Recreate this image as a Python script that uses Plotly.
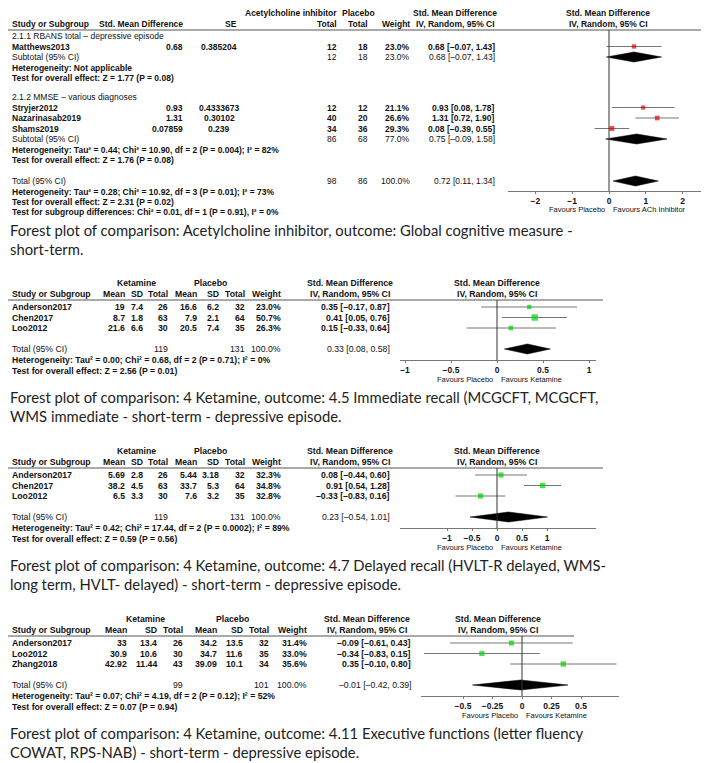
import math
import plotly.graph_objects as go

W, H = 709, 763
TFONT = "Liberation Sans"
CFONT = "Lato"

# ---------------- data: panel 1, acetylcholine inhibitor ----------------
ach_rbans_studies = ["Matthews2013"]
ach_rbans_smd = [0.68]
ach_rbans_se = [0.385204]
ach_rbans_n_ach = [12]
ach_rbans_n_pla = [18]
ach_rbans_weight = [23.0]
ach_rbans_lo = [-0.07]
ach_rbans_hi = [1.43]

ach_mmse_studies = ["Stryjer2012", "Nazarinasab2019", "Shams2019"]
ach_mmse_smd = [0.93, 1.31, 0.07859]
ach_mmse_se = [0.4333673, 0.30102, 0.239]
ach_mmse_n_ach = [12, 40, 34]
ach_mmse_n_pla = [12, 20, 36]
ach_mmse_weight = [21.1, 26.6, 29.3]
ach_mmse_lo = [0.08, 0.72, -0.39]
ach_mmse_hi = [1.78, 1.90, 0.55]

# subtotal RBANS, subtotal MMSE, overall total
ach_pool_labels = ["Subtotal (95% CI)", "Subtotal (95% CI)", "Total (95% CI)"]
ach_pool_est = [0.68, 0.75, 0.72]
ach_pool_lo = [-0.07, -0.09, 0.11]
ach_pool_hi = [1.43, 1.58, 1.34]
ach_pool_n_ach = [12, 86, 98]
ach_pool_n_pla = [18, 68, 86]
ach_pool_weight = [23.0, 77.0, 100.0]
ach_ticks = [-2, -1, 0, 1, 2]

# ---------------- data: ketamine panels ----------------
ket_studies_a = ["Anderson2017", "Chen2017", "Loo2012"]
ket_studies_b = ["Anderson2017", "Loo2012", "Zhang2018"]

imm_k_mean = [19, 8.7, 21.6]
imm_k_sd = [7.4, 1.8, 6.6]
imm_k_n = [26, 63, 30]
imm_p_mean = [16.6, 7.9, 20.5]
imm_p_sd = [6.2, 2.1, 7.4]
imm_p_n = [32, 64, 35]
imm_weight = [23.0, 50.7, 26.3]
imm_smd = [0.35, 0.41, 0.15]
imm_lo = [-0.17, 0.05, -0.33]
imm_hi = [0.87, 0.76, 0.64]
imm_total = [0.33, 0.08, 0.58]
imm_total_n = [119, 131]
imm_ticks = [-1, -0.5, 0, 0.5, 1]

del_k_mean = [5.69, 38.2, 6.5]
del_k_sd = [2.8, 4.5, 3.3]
del_k_n = [26, 63, 30]
del_p_mean = [5.44, 33.7, 7.6]
del_p_sd = [3.18, 5.3, 3.2]
del_p_n = [32, 64, 35]
del_weight = [32.3, 34.8, 32.8]
del_smd = [0.08, 0.91, -0.33]
del_lo = [-0.44, 0.54, -0.83]
del_hi = [0.60, 1.28, 0.16]
del_total = [0.23, -0.54, 1.01]
del_total_n = [119, 131]
del_ticks = [-1, -0.5, 0, 0.5, 1]

exe_k_mean = [33, 30.9, 42.92]
exe_k_sd = [13.4, 10.6, 11.44]
exe_k_n = [26, 30, 43]
exe_p_mean = [34.2, 34.7, 39.09]
exe_p_sd = [13.5, 11.6, 10.1]
exe_p_n = [32, 35, 34]
exe_weight = [31.4, 33.0, 35.6]
exe_smd = [-0.09, -0.34, 0.35]
exe_lo = [-0.61, -0.83, -0.10]
exe_hi = [0.43, 0.15, 0.80]
exe_total = [-0.01, -0.42, 0.39]
exe_total_n = [99, 101]
exe_ticks = [-0.5, -0.25, 0, 0.25, 0.5]

imm_stats = ["Heterogeneity: Tau² = 0.00; Chi² = 0.68, df = 2 (P = 0.71); I² = 0%",
             "Test for overall effect: Z = 2.56 (P = 0.01)"]
del_stats = ["Heterogeneity: Tau² = 0.42; Chi² = 17.44, df = 2 (P = 0.0002); I² = 89%",
             "Test for overall effect: Z = 0.59 (P = 0.56)"]
exe_stats = ["Heterogeneity: Tau² = 0.07; Chi² = 4.19, df = 2 (P = 0.12); I² = 52%",
             "Test for overall effect: Z = 0.07 (P = 0.94)"]

captions = [
    ["Forest plot of comparison: Acetylcholine inhibitor, outcome: Global cognitive measure -",
     "short-term."],
    ["Forest plot of comparison: 4 Ketamine, outcome: 4.5 Immediate recall (MCGCFT, MCGCFT,",
     "WMS immediate - short-term - depressive episode."],
    ["Forest plot of comparison: 4 Ketamine, outcome: 4.7 Delayed recall (HVLT-R delayed, WMS-",
     "long term, HVLT- delayed) - short-term - depressive episode."],
    ["Forest plot of comparison: 4 Ketamine, outcome: 4.11 Executive functions (letter fluency",
     "COWAT, RPS-NAB) - short-term - depressive episode."],
]

fig = go.Figure()
annotations = []
shapes = []


def fmt(v):
    return f"{v:.2f}".replace("-", "–")


def ci_label(e, lo, hi):
    return f"{fmt(e)} [{fmt(lo)}, {fmt(hi)}]"


def txt(x, y, s, anchor="left", bold=False, size=8.5, family=TFONT, color="#111"):
    annotations.append(dict(
        x=x / W, y=y, xref="paper", yref="y", text=f"<b>{s}</b>" if bold else s,
        showarrow=False, xanchor=anchor, yanchor="middle", borderpad=0,
        font=dict(family=family, size=size, color=color),
    ))


def hline(y, x0, x1, color="#555"):
    shapes.append(dict(type="line", xref="paper", yref="y", x0=x0 / W, x1=x1 / W,
                       y0=y, y1=y, line=dict(color=color, width=1)))


def forest(xa, ys, est, lo, hi, weights, color):
    xs, yy = [], []
    for y, a, b in zip(ys, lo, hi):
        xs += [a, b, None]
        yy += [y, y, None]
    fig.add_trace(go.Scatter(x=xs, y=yy, mode="lines", xaxis=xa, yaxis="y",
                             line=dict(color="#777", width=1), hoverinfo="skip"))
    fig.add_trace(go.Scatter(x=est, y=ys, mode="markers", xaxis=xa, yaxis="y",
                             marker=dict(symbol="square", color=color,
                                         size=[0.9 * math.sqrt(w) for w in weights],
                                         line=dict(width=0))))


def diamond(xa, y, est, lo, hi, half=5):
    fig.add_trace(go.Scatter(x=[lo, est, hi, est, lo], y=[y, y - half, y, y + half, y],
                             mode="lines", fill="toself", fillcolor="black",
                             line=dict(color="black", width=0.5), xaxis=xa, yaxis="y",
                             hoverinfo="skip"))


def plot_axis(x0, x1, zero, per_unit, axis_y, ticks):
    return dict(domain=[x0 / W, x1 / W],
                range=[(x0 - zero) / per_unit, (x1 - zero) / per_unit],
                anchor="free", position=1 - axis_y / H,
                showline=True, linecolor="#777", linewidth=1,
                ticks="outside", ticklen=2, tickcolor="#777", tickvals=ticks,
                tickfont=dict(family=TFONT, size=8.5, color="#111", weight="bold"),
                showgrid=False, zeroline=False, fixedrange=True)


def favours(xa, y, left, right):
    for s, anc, sh in [(left, "right", -3), (right, "left", 3)]:
        annotations.append(dict(x=0, y=y, xref=xa, yref="y", text=s, showarrow=False,
                                xanchor=anc, yanchor="middle", xshift=sh, borderpad=0,
                                font=dict(family=TFONT, size=7.5, color="#111")))


def zero_line(xa, y0, y1):
    shapes.append(dict(type="line", xref=xa, yref="y", x0=0, x1=0, y0=y0, y1=y1,
                       line=dict(color="#333", width=1)))


def caption(lines, y):
    for i, s in enumerate(lines):
        txt(1, y + i * 19, s, size=14.8, family=CFONT, color="#222")


# ---------------- panel 1 ----------------
ROW = 10.5
txt(330, 5, "Acetylcholine inhibitor", "right", True)
txt(333, 5, "Placebo", "left", True)
txt(447, 5, "Std. Mean Difference", "center", True)
txt(600, 5, "Std. Mean Difference", "center", True)
txt(3, 16, "Study or Subgroup", bold=True)
txt(176, 16, "Std. Mean Difference", "right", True)
txt(223, 16, "SE", "center", True)
txt(330, 16, "Total", "right", True)
txt(361, 16, "Total", "right", True)
txt(403, 16, "Weight", "right", True)
txt(447, 16, "IV, Random, 95% CI", "center", True)
txt(600, 16, "IV, Random, 95% CI", "center", True)
hline(22, 0, W)

p1_groups = [
    ("2.1.1 RBANS total – depressive episode", 28, ach_rbans_studies, ach_rbans_smd, ach_rbans_se,
     ach_rbans_n_ach, ach_rbans_n_pla, ach_rbans_weight, ach_rbans_lo, ach_rbans_hi,
     ["Heterogeneity: Not applicable", "Test for overall effect: Z = 1.77 (P = 0.08)"]),
    ("2.1.2 MMSE – various diagnoses", 89, ach_mmse_studies, ach_mmse_smd, ach_mmse_se,
     ach_mmse_n_ach, ach_mmse_n_pla, ach_mmse_weight, ach_mmse_lo, ach_mmse_hi,
     ["Heterogeneity: Tau² = 0.44; Chi² = 10.90, df = 2 (P = 0.004); I² = 82%",
      "Test for overall effect: Z = 1.76 (P = 0.08)"]),
]
for g, (title, y0, names, smd, se, na, npl, wt, lo, hi, stats) in enumerate(p1_groups):
    txt(3, y0, title)
    ys = [y0 + ROW * (i + 1) for i in range(len(names))]
    for i, y in enumerate(ys):
        txt(3, y, names[i], bold=True)
        txt(176, y, str(smd[i]), "right", True)
        txt(211, y, str(se[i]), "center", True)
        txt(330, y, str(na[i]), "right", True)
        txt(361, y, str(npl[i]), "right", True)
        txt(403, y, f"{wt[i]:.1f}%", "right", True)
        txt(488, y, ci_label(smd[i], lo[i], hi[i]), "right", True)
    forest("x", ys, smd, lo, hi, wt, "#e00000")
    ys_sub = ys[-1] + ROW
    txt(3, ys_sub, ach_pool_labels[g])
    txt(330, ys_sub, str(ach_pool_n_ach[g]), "right")
    txt(361, ys_sub, str(ach_pool_n_pla[g]), "right")
    txt(403, ys_sub, f"{ach_pool_weight[g]:.1f}%", "right")
    txt(488, ys_sub, ci_label(ach_pool_est[g], ach_pool_lo[g], ach_pool_hi[g]), "right")
    diamond("x", ys_sub, ach_pool_est[g], ach_pool_lo[g], ach_pool_hi[g])
    txt(3, ys_sub + 11, stats[0], bold=True)
    txt(3, ys_sub + 21, stats[1], bold=True)

y_tot = 173
txt(3, y_tot, ach_pool_labels[2])
txt(330, y_tot, str(ach_pool_n_ach[2]), "right")
txt(361, y_tot, str(ach_pool_n_pla[2]), "right")
txt(403, y_tot, f"{ach_pool_weight[2]:.1f}%", "right")
txt(488, y_tot, ci_label(ach_pool_est[2], ach_pool_lo[2], ach_pool_hi[2]), "right")
diamond("x", y_tot, ach_pool_est[2], ach_pool_lo[2], ach_pool_hi[2])
txt(3, 184, "Heterogeneity: Tau² = 0.28; Chi² = 10.92, df = 3 (P = 0.01); I² = 73%", bold=True)
txt(3, 194, "Test for overall effect: Z = 2.31 (P = 0.02)", bold=True)
txt(3, 204, "Test for subgroup differences: Chi² = 0.01, df = 1 (P = 0.91), I² = 0%", bold=True)
zero_line("x", 22, 183)
favours("x", 201, "Favours Placebo", "Favours ACh Inhibitor")
caption(captions[0], 222)

layout_axes = {"xaxis": plot_axis(500, 703, 601, 36.8, 183, ach_ticks)}

# ---------------- ketamine panels ----------------
KS = 8.7
cols_narrow = dict(km=118, ks=136, kn=161, pm=190, ps=212, pn=238, w=274, ci=383,
                   k=128, p=202, smd=342, line=595)
cols_wide = dict(km=120, ks=150, kn=176, pm=210, ps=236, pn=262, w=300, ci=404,
                 k=137, p=224, smd=359, line=566)

ket_panels = [
    (275, "x2", ket_studies_a, imm_k_mean, imm_k_sd, imm_k_n, imm_p_mean, imm_p_sd, imm_p_n,
     imm_weight, imm_smd, imm_lo, imm_hi, imm_total, imm_total_n, imm_stats, cols_narrow,
     (392, 588, 489, 92, imm_ticks, 489)),
    (443, "x3", ket_studies_a, del_k_mean, del_k_sd, del_k_n, del_p_mean, del_p_sd, del_p_n,
     del_weight, del_smd, del_lo, del_hi, del_total, del_total_n, del_stats, cols_narrow,
     (392, 588, 489, 50, del_ticks, 489)),
    (611, "x4", ket_studies_b, exe_k_mean, exe_k_sd, exe_k_n, exe_p_mean, exe_p_sd, exe_p_n,
     exe_weight, exe_smd, exe_lo, exe_hi, exe_total, exe_total_n, exe_stats, cols_wide,
     (413, 611, 514, 118, exe_ticks, 490)),
]

for n, (T, xa, names, km, ks, kn, pm, ps, pn, wt, smd, lo, hi, tot, tot_n, stats, c, ax) in \
        enumerate(ket_panels, start=2):
    x0, x1, zero, per_unit, ticks, head_c = ax
    txt(c["k"], T, "Ketamine", "center", True, KS)
    txt(c["p"], T, "Placebo", "center", True, KS)
    txt(c["smd"], T, "Std. Mean Difference", "center", True, KS)
    txt(head_c, T, "Std. Mean Difference", "center", True, KS)
    h2 = T + 11
    txt(3, h2, "Study or Subgroup", bold=True, size=KS)
    for key, lab in [("km", "Mean"), ("ks", "SD"), ("kn", "Total"), ("pm", "Mean"),
                     ("ps", "SD"), ("pn", "Total"), ("w", "Weight")]:
        txt(c[key], h2, lab, "right", True, KS)
    txt(c["smd"], h2, "IV, Random, 95% CI", "center", True, KS)
    txt(head_c, h2, "IV, Random, 95% CI", "center", True, KS)
    hline(T + 17, 0, c["line"])
    ys = [T + 24 + ROW * i for i in range(len(names))]
    for i, y in enumerate(ys):
        txt(3, y, names[i], bold=True, size=KS)
        for key, vals in [("km", km), ("ks", ks), ("kn", kn), ("pm", pm), ("ps", ps), ("pn", pn)]:
            txt(c[key], y, str(vals[i]), "right", True, KS)
        txt(c["w"], y, f"{wt[i]:.1f}%", "right", True, KS)
        txt(c["ci"], y, ci_label(smd[i], lo[i], hi[i]), "right", True, KS)
    forest(xa, ys, smd, lo, hi, wt, "#00d000")
    yt = T + 66
    txt(3, yt, "Total (95% CI)", size=KS)
    txt(c["kn"], yt, str(tot_n[0]), "right", size=KS)
    txt(c["pn"], yt, str(tot_n[1]), "right", size=KS)
    txt(c["w"], yt, "100.0%", "right", size=KS)
    txt(c["ci"], yt, ci_label(*tot), "right", size=KS)
    diamond(xa, yt, *tot)
    txt(3, yt + 11, stats[0], bold=True, size=KS)
    txt(3, yt + 22, stats[1], bold=True, size=KS)
    axis_y = T + 77
    zero_line(xa, T + 17, axis_y)
    favours(xa, axis_y + 19, "Favours Placebo", "Favours Ketamine")
    caption(captions[n - 1], T + 114)
    layout_axes[f"xaxis{n}"] = plot_axis(x0, x1, zero, per_unit, axis_y, ticks)

fig.update_layout(
    width=W, height=H,
    margin=dict(l=0, r=0, t=0, b=0),
    paper_bgcolor="white", plot_bgcolor="rgba(0,0,0,0)",
    showlegend=False,
    yaxis=dict(domain=[0, 1], range=[H, 0], visible=False, fixedrange=True),
    annotations=annotations, shapes=shapes,
    **layout_axes,
)
fig.write_html("out.html")
